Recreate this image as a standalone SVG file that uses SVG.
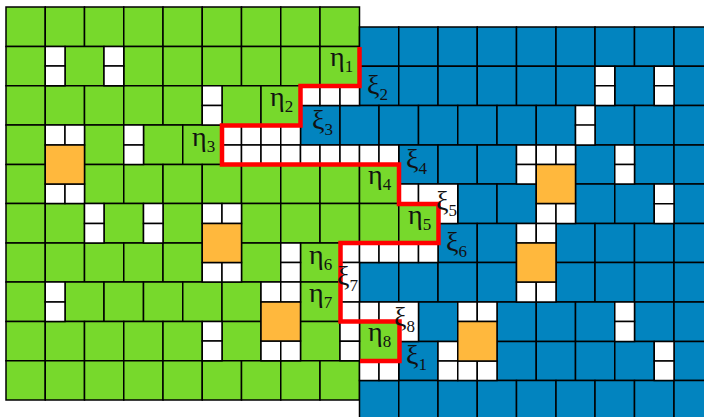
<svg xmlns="http://www.w3.org/2000/svg" width="704" height="417" viewBox="0 0 704 417">
<style>
rect{stroke:#000;stroke-width:1.5}
.g{fill:#77d92c}
.b{fill:#0284bf}
.w{fill:#fff}
.o{fill:#ffb83d}
.bd{fill:none;stroke:#f00;stroke-width:4.5;stroke-linejoin:miter}
text{font-family:"Liberation Serif","DejaVu Serif",serif;font-size:28px;fill:#111}
.s{font-size:17px}
</style>
<rect width="704" height="417" style="fill:#fff;stroke:none"/>
<g id="green-region">
<rect class="g" x="6" y="7" width="39.25" height="39.5"/><rect class="g" x="45.25" y="7" width="39.25" height="39.5"/><rect class="g" x="84.5" y="7" width="39.25" height="39.5"/><rect class="g" x="123.75" y="7" width="39.25" height="39.5"/><rect class="g" x="163" y="7" width="39.25" height="39.5"/><rect class="g" x="202.25" y="7" width="39.25" height="39.5"/><rect class="g" x="241.5" y="7" width="39.25" height="39.5"/><rect class="g" x="280.75" y="7" width="39.25" height="39.5"/><rect class="g" x="320" y="7" width="39.5" height="39.5"/>
<rect class="g" x="6" y="46.5" width="39.25" height="39.25"/><rect class="g" x="65" y="46.5" width="39" height="39.25"/><rect class="g" x="123.75" y="46.5" width="39.25" height="39.25"/><rect class="g" x="163" y="46.5" width="39.25" height="39.25"/><rect class="g" x="202.25" y="46.5" width="39.25" height="39.25"/><rect class="g" x="241.5" y="46.5" width="39.25" height="39.25"/><rect class="g" x="280.75" y="46.5" width="39.25" height="39.25"/><rect class="g" x="320" y="46.5" width="39.5" height="39.25"/>
<rect class="g" x="6" y="85.75" width="39.25" height="39.25"/><rect class="g" x="45.25" y="85.75" width="39.25" height="39.25"/><rect class="g" x="84.5" y="85.75" width="39.25" height="39.25"/><rect class="g" x="123.75" y="85.75" width="39.25" height="39.25"/><rect class="g" x="163" y="85.75" width="39.25" height="39.25"/><rect class="g" x="222" y="85.75" width="39" height="39.25"/><rect class="g" x="261" y="85.75" width="39.5" height="39.25"/>
<rect class="g" x="6" y="125" width="39.25" height="39.5"/><rect class="g" x="84.5" y="125" width="39.25" height="39.5"/><rect class="g" x="143.5" y="125" width="39.25" height="39.5"/><rect class="g" x="182.75" y="125" width="39.25" height="39.5"/>
<rect class="g" x="6" y="164.5" width="39.25" height="39"/><rect class="g" x="84.5" y="164.5" width="39.25" height="39"/><rect class="g" x="123.75" y="164.5" width="39.25" height="39"/><rect class="g" x="163" y="164.5" width="39.25" height="39"/><rect class="g" x="202.25" y="164.5" width="39.25" height="39"/><rect class="g" x="241.5" y="164.5" width="39.25" height="39"/><rect class="g" x="280.75" y="164.5" width="39.25" height="39"/><rect class="g" x="320" y="164.5" width="39.5" height="39"/><rect class="g" x="359.5" y="164.5" width="39.25" height="39"/>
<rect class="g" x="6" y="203.5" width="39.25" height="39.5"/><rect class="g" x="45.25" y="203.5" width="39.25" height="39.5"/><rect class="g" x="104" y="203.5" width="39.5" height="39.5"/><rect class="g" x="163" y="203.5" width="39.25" height="39.5"/><rect class="g" x="241.5" y="203.5" width="39.25" height="39.5"/><rect class="g" x="280.75" y="203.5" width="39.25" height="39.5"/><rect class="g" x="320" y="203.5" width="39.5" height="39.5"/><rect class="g" x="359.5" y="203.5" width="39.25" height="39.5"/><rect class="g" x="398.75" y="203.5" width="39.25" height="39.5"/>
<rect class="g" x="6" y="243" width="39.25" height="39"/><rect class="g" x="45.25" y="243" width="39.25" height="39"/><rect class="g" x="84.5" y="243" width="39.25" height="39"/><rect class="g" x="123.75" y="243" width="39.25" height="39"/><rect class="g" x="163" y="243" width="39.25" height="39"/><rect class="g" x="241.5" y="243" width="39.25" height="39"/><rect class="g" x="300.5" y="243" width="39.5" height="39"/>
<rect class="g" x="6" y="282" width="39.25" height="39.5"/><rect class="g" x="65" y="282" width="39" height="39.5"/><rect class="g" x="104" y="282" width="39.5" height="39.5"/><rect class="g" x="143.5" y="282" width="39.25" height="39.5"/><rect class="g" x="182.75" y="282" width="39.25" height="39.5"/><rect class="g" x="222" y="282" width="39" height="39.5"/><rect class="g" x="300.5" y="282" width="39.5" height="39.5"/>
<rect class="g" x="6" y="321.5" width="39.25" height="39.25"/><rect class="g" x="45.25" y="321.5" width="39.25" height="39.25"/><rect class="g" x="84.5" y="321.5" width="39.25" height="39.25"/><rect class="g" x="123.75" y="321.5" width="39.25" height="39.25"/><rect class="g" x="163" y="321.5" width="39.25" height="39.25"/><rect class="g" x="222" y="321.5" width="39" height="39.25"/><rect class="g" x="300.5" y="321.5" width="39.5" height="39.25"/><rect class="g" x="359.5" y="321.5" width="39.25" height="39.25"/>
<rect class="g" x="6" y="360.75" width="39.25" height="39.25"/><rect class="g" x="45.25" y="360.75" width="39.25" height="39.25"/><rect class="g" x="84.5" y="360.75" width="39.25" height="39.25"/><rect class="g" x="123.75" y="360.75" width="39.25" height="39.25"/><rect class="g" x="163" y="360.75" width="39.25" height="39.25"/><rect class="g" x="202.25" y="360.75" width="39.25" height="39.25"/><rect class="g" x="241.5" y="360.75" width="39.25" height="39.25"/><rect class="g" x="280.75" y="360.75" width="39.25" height="39.25"/><rect class="g" x="320" y="360.75" width="39.5" height="39.25"/>
</g>
<g id="blue-region">
<rect class="b" x="359.5" y="27" width="39.25" height="39.25"/><rect class="b" x="398.75" y="27" width="39.25" height="39.25"/><rect class="b" x="438" y="27" width="39.25" height="39.25"/><rect class="b" x="477.25" y="27" width="39.25" height="39.25"/><rect class="b" x="516.5" y="27" width="39.5" height="39.25"/><rect class="b" x="556" y="27" width="39" height="39.25"/><rect class="b" x="595" y="27" width="39.5" height="39.25"/><rect class="b" x="634.5" y="27" width="39.5" height="39.25"/><rect class="b" x="674" y="27" width="39" height="39.25"/>
<rect class="b" x="359.5" y="66.25" width="39.25" height="39.25"/><rect class="b" x="398.75" y="66.25" width="39.25" height="39.25"/><rect class="b" x="438" y="66.25" width="39.25" height="39.25"/><rect class="b" x="477.25" y="66.25" width="39.25" height="39.25"/><rect class="b" x="516.5" y="66.25" width="39.5" height="39.25"/><rect class="b" x="556" y="66.25" width="39" height="39.25"/><rect class="b" x="614.75" y="66.25" width="39.5" height="39.25"/><rect class="b" x="674" y="66.25" width="39" height="39.25"/>
<rect class="b" x="300.5" y="105.5" width="39.5" height="39.5"/><rect class="b" x="340" y="105.5" width="39" height="39.5"/><rect class="b" x="379" y="105.5" width="39.5" height="39.5"/><rect class="b" x="418.5" y="105.5" width="39.25" height="39.5"/><rect class="b" x="457.75" y="105.5" width="39.25" height="39.5"/><rect class="b" x="497" y="105.5" width="39.25" height="39.5"/><rect class="b" x="536.25" y="105.5" width="39.25" height="39.5"/><rect class="b" x="595" y="105.5" width="39.5" height="39.5"/><rect class="b" x="634.5" y="105.5" width="39.5" height="39.5"/><rect class="b" x="674" y="105.5" width="39" height="39.5"/>
<rect class="b" x="398.75" y="145" width="39.25" height="39"/><rect class="b" x="438" y="145" width="39.25" height="39"/><rect class="b" x="477.25" y="145" width="39.25" height="39"/><rect class="b" x="575.5" y="145" width="39.25" height="39"/><rect class="b" x="634.5" y="145" width="39.5" height="39"/><rect class="b" x="674" y="145" width="39" height="39"/>
<rect class="b" x="457.75" y="184" width="39.25" height="39.5"/><rect class="b" x="497" y="184" width="39.25" height="39.5"/><rect class="b" x="575.5" y="184" width="39.25" height="39.5"/><rect class="b" x="614.75" y="184" width="39.5" height="39.5"/><rect class="b" x="674" y="184" width="39" height="39.5"/>
<rect class="b" x="438" y="223.5" width="39.25" height="39"/><rect class="b" x="477.25" y="223.5" width="39.25" height="39"/><rect class="b" x="556" y="223.5" width="39" height="39"/><rect class="b" x="595" y="223.5" width="39.5" height="39"/><rect class="b" x="634.5" y="223.5" width="39.5" height="39"/><rect class="b" x="674" y="223.5" width="39" height="39"/>
<rect class="b" x="359.5" y="262.5" width="39.25" height="39.5"/><rect class="b" x="398.75" y="262.5" width="39.25" height="39.5"/><rect class="b" x="438" y="262.5" width="39.25" height="39.5"/><rect class="b" x="477.25" y="262.5" width="39.25" height="39.5"/><rect class="b" x="556" y="262.5" width="39" height="39.5"/><rect class="b" x="595" y="262.5" width="39.5" height="39.5"/><rect class="b" x="634.5" y="262.5" width="39.5" height="39.5"/><rect class="b" x="674" y="262.5" width="39" height="39.5"/>
<rect class="b" x="418.5" y="302" width="39.25" height="39.5"/><rect class="b" x="497" y="302" width="39.25" height="39.5"/><rect class="b" x="536.25" y="302" width="39.25" height="39.5"/><rect class="b" x="575.5" y="302" width="39.25" height="39.5"/><rect class="b" x="634.5" y="302" width="39.5" height="39.5"/><rect class="b" x="674" y="302" width="39" height="39.5"/>
<rect class="b" x="398.75" y="341.5" width="39.25" height="39"/><rect class="b" x="497" y="341.5" width="39.25" height="39"/><rect class="b" x="536.25" y="341.5" width="39.25" height="39"/><rect class="b" x="575.5" y="341.5" width="39.25" height="39"/><rect class="b" x="614.75" y="341.5" width="39.5" height="39"/><rect class="b" x="674" y="341.5" width="39" height="39"/>
<rect class="b" x="359.5" y="380.5" width="39.25" height="39"/><rect class="b" x="398.75" y="380.5" width="39.25" height="39"/><rect class="b" x="438" y="380.5" width="39.25" height="39"/><rect class="b" x="477.25" y="380.5" width="39.25" height="39"/><rect class="b" x="516.5" y="380.5" width="39.5" height="39"/><rect class="b" x="556" y="380.5" width="39" height="39"/><rect class="b" x="595" y="380.5" width="39.5" height="39"/><rect class="b" x="634.5" y="380.5" width="39.5" height="39"/><rect class="b" x="674" y="380.5" width="39" height="39"/>
</g>
<g id="white-cells">
<rect class="w" x="45.25" y="46.5" width="19.75" height="19.5"/><rect class="w" x="45.25" y="66" width="19.75" height="19.75"/><rect class="w" x="104" y="46.5" width="19.75" height="19.5"/><rect class="w" x="104" y="66" width="19.75" height="19.75"/>
<rect class="w" x="202.25" y="85.75" width="19.75" height="19.75"/><rect class="w" x="202.25" y="105.5" width="19.75" height="19.5"/>
<rect class="w" x="300.5" y="85.75" width="19.5" height="19.75"/><rect class="w" x="320" y="85.75" width="20" height="19.75"/><rect class="w" x="340" y="85.75" width="19.5" height="19.75"/>
<rect class="w" x="45.25" y="125" width="19.75" height="20"/><rect class="w" x="65" y="125" width="19.5" height="20"/><rect class="w" x="45.25" y="184" width="19.75" height="19.5"/><rect class="w" x="65" y="184" width="19.5" height="19.5"/>
<rect class="w" x="123.75" y="125" width="19.75" height="20"/><rect class="w" x="123.75" y="145" width="19.75" height="19.5"/>
<rect class="w" x="222" y="125" width="19.5" height="20"/><rect class="w" x="241.5" y="125" width="19.5" height="20"/><rect class="w" x="261" y="125" width="19.75" height="20"/><rect class="w" x="280.75" y="125" width="19.75" height="20"/>
<rect class="w" x="222" y="145" width="19.5" height="19.5"/><rect class="w" x="241.5" y="145" width="19.5" height="19.5"/><rect class="w" x="261" y="145" width="19.75" height="19.5"/><rect class="w" x="280.75" y="145" width="19.75" height="19.5"/><rect class="w" x="300.5" y="145" width="19.5" height="19.5"/><rect class="w" x="320" y="145" width="20" height="19.5"/><rect class="w" x="340" y="145" width="19.5" height="19.5"/><rect class="w" x="359.5" y="145" width="19.5" height="19.5"/><rect class="w" x="379" y="145" width="19.75" height="19.5"/>
<rect class="w" x="516.5" y="145" width="19.75" height="19.5"/><rect class="w" x="516.5" y="164.5" width="19.75" height="19.5"/><rect class="w" x="536.25" y="145" width="19.75" height="19.5"/><rect class="w" x="556" y="145" width="19.5" height="19.5"/><rect class="w" x="536.25" y="203.5" width="19.75" height="20"/><rect class="w" x="556" y="203.5" width="19.5" height="20"/>
<rect class="w" x="614.75" y="145" width="19.75" height="19.5"/><rect class="w" x="614.75" y="164.5" width="19.75" height="19.5"/>
<rect class="w" x="595" y="66.25" width="19.75" height="19.5"/><rect class="w" x="595" y="85.75" width="19.75" height="19.75"/><rect class="w" x="654.25" y="66.25" width="19.75" height="19.5"/><rect class="w" x="654.25" y="85.75" width="19.75" height="19.75"/>
<rect class="w" x="575.5" y="105.5" width="19.5" height="20"/><rect class="w" x="575.5" y="125" width="19.5" height="20"/>
<rect class="w" x="398.75" y="184" width="19.75" height="19.5"/><path d="M418.5 184H457.75V223.5H438V203.5H418.5Z" fill="#fff" stroke="#000" stroke-width="1.5"/>
<rect class="w" x="654.25" y="184" width="19.75" height="19.75"/><rect class="w" x="654.25" y="203.75" width="19.75" height="19.75"/>
<rect class="w" x="84.5" y="203.5" width="19.5" height="20"/><rect class="w" x="84.5" y="223.5" width="19.5" height="19.5"/><rect class="w" x="143.5" y="203.5" width="19.5" height="20"/><rect class="w" x="143.5" y="223.5" width="19.5" height="19.5"/>
<rect class="w" x="202.25" y="203.5" width="19.75" height="20"/><rect class="w" x="222" y="203.5" width="19.5" height="20"/><rect class="w" x="202.25" y="262.5" width="19.75" height="19.5"/><rect class="w" x="222" y="262.5" width="19.5" height="19.5"/>
<rect class="w" x="280.75" y="243" width="19.75" height="19.5"/><rect class="w" x="280.75" y="262.5" width="19.75" height="19.5"/>
<rect class="w" x="340" y="243" width="19.5" height="19.5"/><rect class="w" x="359.5" y="243" width="19.5" height="19.5"/><rect class="w" x="379" y="243" width="19.75" height="19.5"/><rect class="w" x="398.75" y="243" width="19.75" height="19.5"/><rect class="w" x="418.5" y="243" width="19.5" height="19.5"/>
<rect class="w" x="340" y="262.5" width="19.5" height="39.5"/>
<rect class="w" x="516.5" y="223.5" width="19.75" height="19.5"/><rect class="w" x="536.25" y="223.5" width="19.75" height="19.5"/><rect class="w" x="516.5" y="282" width="19.75" height="20"/><rect class="w" x="536.25" y="282" width="19.75" height="20"/>
<rect class="w" x="45.25" y="282" width="19.75" height="20"/><rect class="w" x="45.25" y="302" width="19.75" height="19.5"/>
<rect class="w" x="261" y="282" width="19.75" height="20"/><rect class="w" x="280.75" y="282" width="19.75" height="20"/><rect class="w" x="261" y="341" width="19.75" height="19.75"/><rect class="w" x="280.75" y="341" width="19.75" height="19.75"/>
<rect class="w" x="202.25" y="321.5" width="19.75" height="19.5"/><rect class="w" x="202.25" y="341" width="19.75" height="19.75"/>
<rect class="w" x="340" y="302" width="19.5" height="19.5"/><rect class="w" x="359.5" y="302" width="19.5" height="19.5"/><path d="M379 302H418.5V341.5H398.75V321.5H379Z" fill="#fff" stroke="#000" stroke-width="1.5"/>
<rect class="w" x="340" y="321.5" width="19.5" height="19.75"/><rect class="w" x="340" y="341.25" width="19.5" height="19.5"/>
<rect class="w" x="359.5" y="360.75" width="19.5" height="19.75"/><rect class="w" x="379" y="360.75" width="19.75" height="19.75"/>
<rect class="w" x="457.75" y="302" width="19.5" height="19.5"/><rect class="w" x="477.25" y="302" width="19.75" height="19.5"/><rect class="w" x="438" y="341.5" width="19.75" height="19.5"/><rect class="w" x="438" y="361" width="19.75" height="19.5"/><rect class="w" x="457.75" y="361" width="19.5" height="19.5"/><rect class="w" x="477.25" y="361" width="19.75" height="19.5"/>
<rect class="w" x="614.75" y="302" width="19.75" height="19.5"/><rect class="w" x="614.75" y="321.5" width="19.75" height="20"/><rect class="w" x="654.25" y="341.5" width="19.75" height="19.5"/><rect class="w" x="654.25" y="361" width="19.75" height="19.5"/>
</g>
<g id="orange-cells">
<rect class="o" x="45.25" y="145" width="39.25" height="39"/><rect class="o" x="202.25" y="223.5" width="39.25" height="39"/><rect class="o" x="261" y="302" width="39.5" height="39"/><rect class="o" x="536.25" y="164.5" width="39.25" height="39"/><rect class="o" x="516.5" y="243" width="39.5" height="39"/><rect class="o" x="457.75" y="321.5" width="39.25" height="39.5"/>
</g>
<g id="connectors">
<path class="bd" d="M359.5 47V86H300.5V125.5H222V164.5H399V204H438.5V243H340.5V321.5H399.5V361H360"/>
</g>
<g id="labels">
<text x="330" y="66">η<tspan class="s" dy="6">1</tspan></text>
<text x="367" y="94">ξ<tspan class="s" dy="6">2</tspan></text>
<text x="270" y="106">η<tspan class="s" dy="6">2</tspan></text>
<text x="312" y="129">ξ<tspan class="s" dy="6">3</tspan></text>
<text x="192" y="146">η<tspan class="s" dy="6">3</tspan></text>
<text x="406" y="168">ξ<tspan class="s" dy="6">4</tspan></text>
<text x="368" y="184">η<tspan class="s" dy="6">4</tspan></text>
<text x="436" y="210">ξ<tspan class="s" dy="6">5</tspan></text>
<text x="408" y="224">η<tspan class="s" dy="6">5</tspan></text>
<text x="446" y="251">ξ<tspan class="s" dy="6">6</tspan></text>
<text x="309" y="264">η<tspan class="s" dy="6">6</tspan></text>
<text x="337" y="285">ξ<tspan class="s" dy="6">7</tspan></text>
<text x="309" y="302">η<tspan class="s" dy="6">7</tspan></text>
<text x="394" y="326">ξ<tspan class="s" dy="6">8</tspan></text>
<text x="368" y="341">η<tspan class="s" dy="6">8</tspan></text>
<text x="406" y="364">ξ<tspan class="s" dy="6">1</tspan></text>
</g>
</svg>
